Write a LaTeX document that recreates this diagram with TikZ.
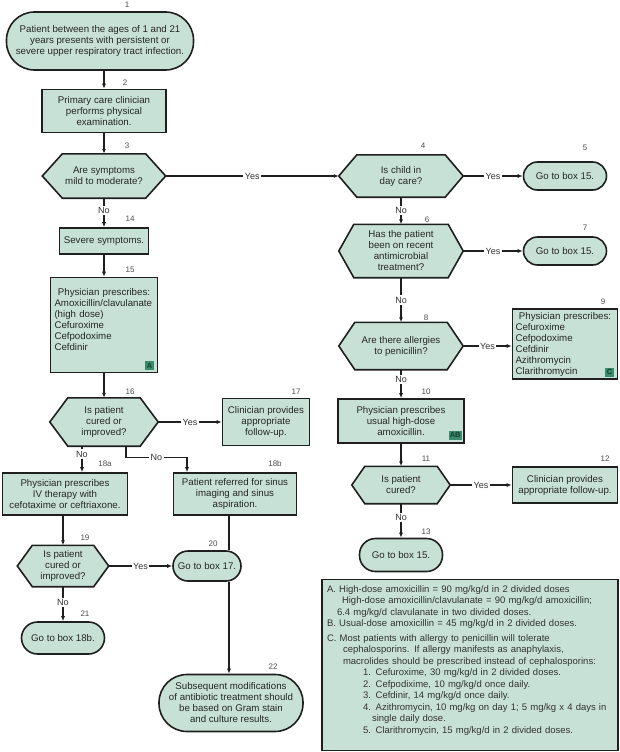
\documentclass[tikz,border=0pt]{standalone}
\usepackage{fontspec}
\setmainfont{Liberation Sans}
\usepackage{tikz}
\usetikzlibrary{arrows.meta,backgrounds,positioning,fit,shapes.misc}

\definecolor{boxfill}{HTML}{C8E1D6}
\definecolor{badgefill}{HTML}{3B8C6C}
\definecolor{badgetext}{HTML}{15402F}
\definecolor{inkline}{HTML}{1F1F1F}

\newcommand{\hexoutline}[2]{%
  \draw[hexline] (#1.west) -- ([xshift=#2pt]#1.north west) -- ([xshift=-#2pt]#1.north east)
    -- (#1.east) -- ([xshift=-#2pt]#1.south east) -- ([xshift=#2pt]#1.south west) -- cycle;}

\begin{document}
\begin{tikzpicture}[x=1pt,y=-1pt,
  txt/.style={font=\fontsize{9.7}{11}\selectfont, align=center, text=black!85},
  stepbox/.style={txt, rectangle, draw=inkline, fill=boxfill, line width=1.6pt, inner sep=2pt},
  endbox/.style={txt, rectangle, rounded corners=#1, draw=inkline, fill=boxfill, line width=1.6pt, inner sep=2pt},
  ask/.style={txt, rectangle, inner sep=1pt},
  hexline/.style={draw=inkline, fill=boxfill, line width=1.6pt, line join=miter},
  num/.style={font=\fontsize{8}{8}\selectfont, text=black!70, inner sep=0pt},
  lbl/.style={font=\fontsize{9}{9}\selectfont, fill=white, inner sep=1.5pt, text=black!80},
  badge/.style={font=\fontsize{7.5}{7.5}\selectfont\bfseries, fill=badgefill, text=badgetext, inner sep=1pt, minimum height=9pt, minimum width=9pt},
  arr/.style={draw=inkline, line width=1.2pt, -{Latex[length=5pt,width=4pt]}},
  conn/.style={draw=inkline, line width=1.2pt}]

\useasboundingbox (0,0) rectangle (620,752);

\node[endbox=28pt, minimum width=187pt, minimum height=58pt] (b1) at (100,41) {Patient between the ages of 1 and 21\\years presents with persistent or\\severe upper respiratory tract infection.};
\node[stepbox, minimum width=124pt, minimum height=43pt] (b2) at (104,111) {Primary care clinician\\performs physical\\examination.};
\node[ask, minimum width=123pt, minimum height=44pt] (h3) at (104,176) {Are symptoms\\mild to moderate?};
\node[stepbox, minimum width=89pt, minimum height=26pt] (b14) at (104,241) {Severe symptoms.};
\node[stepbox, minimum width=107pt, minimum height=95pt, text width=99pt, align=left] (b15) at (104,325) {\hfil Physician prescribes:\hfil\\Amoxicillin/clavulanate\\(high dose)\\Cefuroxime\\Cefpodoxime\\Cefdinir\\\mbox{}};
\node[badge, anchor=south east] (bA) at ([shift={(-4,-3)}]b15.south east) {A};
\node[ask, minimum width=108pt, minimum height=48pt] (h16) at (104,422) {Is patient\\cured or\\improved?};
\node[stepbox, minimum width=87pt, minimum height=47pt] (b17) at (266,422) {Clinician provides\\appropriate\\follow-up.};
\node[stepbox, minimum width=125pt, minimum height=42pt] (b18a) at (65,494) {Physician prescribes\\IV therapy with\\cefotaxime or ceftriaxone.};
\node[stepbox, minimum width=123pt, minimum height=42pt] (b18b) at (235,494) {Patient referred for sinus\\imaging and sinus\\aspiration.};
\node[ask, minimum width=91pt, minimum height=41pt] (h19) at (63,566) {Is patient\\cured or\\improved?};
\node[endbox=15pt, minimum width=68pt, minimum height=30pt] (b20) at (207,566) {Go to box 17.};
\node[endbox=16pt, minimum width=83pt, minimum height=32pt] (b21) at (63,638) {Go to box 18b.};
\node[endbox=28pt, minimum width=144pt, minimum height=57pt] (b22) at (231,703) {Subsequent modifications\\of antibiotic treatment should\\be based on Gram stain\\and culture results.};

\node[ask, minimum width=124pt, minimum height=42pt] (h4) at (401,176) {Is child in\\day care?};
\node[endbox=14pt, minimum width=83pt, minimum height=28pt] (b5) at (565,176) {Go to box 15.};
\node[ask, minimum width=124pt, minimum height=53pt] (h6) at (401,251) {Has the patient\\been on recent\\antimicrobial\\treatment?};
\node[endbox=14pt, minimum width=83pt, minimum height=28pt] (b7) at (565,251) {Go to box 15.};
\node[ask, minimum width=124pt, minimum height=47pt] (h8) at (401,346) {Are there allergies\\to penicillin?};
\node[stepbox, minimum width=105pt, minimum height=70pt, text width=99pt, align=left] (b9) at (565,344) {\hfil Physician prescribes:\hfil\\Cefuroxime\\Cefpodoxime\\Cefdinir\\Azithromycin\\Clarithromycin};
\node[badge, anchor=south east] (bC) at ([shift={(-4,-3)}]b9.south east) {C};
\node[stepbox, minimum width=126pt, minimum height=44pt] (b10) at (401,421) {Physician prescribes\\usual high-dose\\amoxicillin.};
\node[badge, anchor=south east] (bAB) at ([shift={(-3,-4)}]b10.south east) {AB};
\node[ask, minimum width=98pt, minimum height=37pt] (h11) at (401,485) {Is patient\\cured?};
\node[stepbox, minimum width=105pt, minimum height=36pt] (b12) at (565,485) {Clinician provides\\appropriate follow-up.};
\node[endbox=16pt, minimum width=83pt, minimum height=33pt] (b13) at (401,555) {Go to box 15.};

\node[stepbox, line width=1.2pt, minimum width=296pt, minimum height=171pt, text width=286pt, align=left, font=\fontsize{9.5}{11.5}\selectfont, text=black!80] (note) at (470,665) {%
A. High-dose amoxicillin = 90 mg/kg/d in 2 divided doses\\
\hspace*{15pt}High-dose amoxicillin/clavulanate = 90 mg/kg/d amoxicillin;\\
\hspace*{10pt}6.4 mg/kg/d clavulanate in two divided doses.\\
B. Usual-dose amoxicillin = 45 mg/kg/d in 2 divided doses.\\[3pt]
C. Most patients with allergy to penicillin will tolerate\\
\hspace*{16pt}cephalosporins. If allergy manifests as anaphylaxis,\\
\hspace*{16pt}macrolides should be prescribed instead of cephalosporins:\\
\hspace*{36pt}1. Cefuroxime, 30 mg/kg/d in 2 divided doses.\\
\hspace*{36pt}2. Cefpodixime, 10 mg/kg/d once daily.\\
\hspace*{36pt}3. Cefdinir, 14 mg/kg/d once daily.\\
\hspace*{36pt}4. Azithromycin, 10 mg/kg on day 1; 5 mg/kg x 4 days in\\
\hspace*{45pt}single daily dose.\\
\hspace*{36pt}5. Clarithromycin, 15 mg/kg/d in 2 divided doses.\\
\mbox{}};

\begin{scope}[on background layer]
\hexoutline{h3}{20}
\hexoutline{h4}{18}
\hexoutline{h6}{15}
\hexoutline{h8}{16}
\hexoutline{h11}{13}
\hexoutline{h16}{18}
\hexoutline{h19}{15}
\end{scope}

\node[num] (n1) at (127,5) {1};
\node[num] (n2) at (125,83) {2};
\node[num] (n3) at (127,146) {3};
\node[num] (n14) at (130,219) {14};
\node[num] (n15) at (130,270) {15};
\node[num] (n16) at (130,392) {16};
\node[num] (n17) at (296,392) {17};
\node[num] (n18a) at (105,464) {18a};
\node[num] (n18b) at (275,464) {18b};
\node[num] (n19) at (85,538) {19};
\node[num] (n20) at (213,544) {20};
\node[num] (n21) at (85,614) {21};
\node[num] (n22) at (273,667) {22};
\node[num] (n4) at (423,146) {4};
\node[num] (n5) at (585,148) {5};
\node[num] (n6) at (427,220) {6};
\node[num] (n7) at (585,228) {7};
\node[num] (n8) at (426,318) {8};
\node[num] (n9) at (603,302) {9};
\node[num] (n10) at (426,392) {10};
\node[num] (n11) at (426,459) {11};
\node[num] (n12) at (605,459) {12};
\node[num] (n13) at (426,532) {13};

\draw[arr] (b1.south -| b2.north) to (b2.north);
\draw[arr] (b2.south) to (h3.north);
\draw[arr] (h3.east) to node[lbl]{Yes} (h4.west);
\draw[arr] (h3.south) to node[lbl, pos=0.42]{No} (b14.north);
\draw[arr] (b14.south) to (b15.north);
\draw[arr] (b15.south) to (h16.north);
\draw[arr] (h16.east) to node[lbl]{Yes} (b17.west);
\draw[arr] ([xshift=-22pt]h16.south) to node[lbl, pos=0.3]{No} ([xshift=-22pt]h16.south |- b18a.north);
\draw[arr] ([xshift=22pt]h16.south) -- ++(0,11) -| node[lbl, pos=0.25]{No} ([xshift=-48pt]b18b.north);
\draw[arr] (b18a.south -| h19.north) to (h19.north);
\draw[arr] (h19.east) to node[lbl]{Yes} (b20.west);
\draw[arr] (h19.south) to node[lbl, pos=0.45]{No} (b21.north);
\draw[conn] ([xshift=-6pt]b18b.south) to ([xshift=-6pt]b18b.south |- b20.north);
\draw[arr] ([xshift=-6pt]b18b.south |- b20.south) to ([xshift=-6pt]b18b.south |- b22.north);

\draw[arr] (h4.east) to node[lbl]{Yes} (b5.west);
\draw[arr] (h4.south) to node[lbl]{No} (h6.north);
\draw[arr] (h6.east) to node[lbl]{Yes} (b7.west);
\draw[arr] (h6.south) to node[lbl]{No} (h8.north);
\draw[arr] (h8.east) to node[lbl]{Yes} (h8.east -| b9.west);
\draw[arr] (h8.south) to node[lbl, pos=0.35]{No} (b10.north);
\draw[arr] (b10.south) to (h11.north);
\draw[arr] (h11.east) to node[lbl]{Yes} (b12.west);
\draw[arr] (h11.south) to node[lbl, pos=0.4]{No} (b13.north);
\end{tikzpicture}
\end{document}
